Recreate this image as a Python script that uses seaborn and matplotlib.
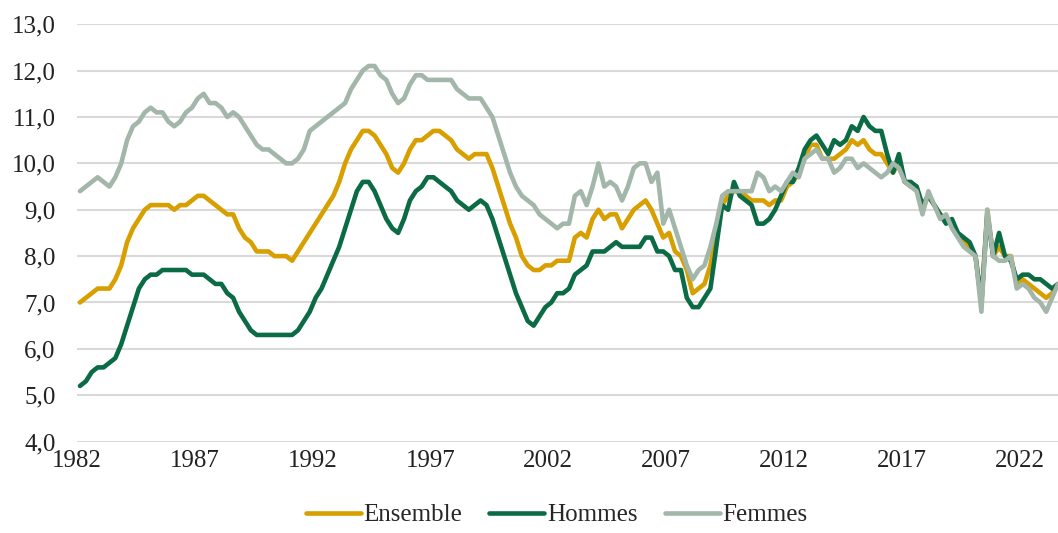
import numpy as np
import pandas as pd
import matplotlib
matplotlib.use("Agg")
import matplotlib.pyplot as plt
import seaborn as sns

# taux de chomage trimestriel, 1982 T1 -> 2023 T3
start_year = 1982
ensemble = [
    7.0, 7.1, 7.2, 7.3, 7.3, 7.3, 7.5, 7.8, 8.3, 8.6, 8.8, 9.0,
    9.1, 9.1, 9.1, 9.1, 9.0, 9.1, 9.1, 9.2, 9.3, 9.3, 9.2, 9.1,
    9.0, 8.9, 8.9, 8.6, 8.4, 8.3, 8.1, 8.1, 8.1, 8.0, 8.0, 8.0,
    7.9, 8.1, 8.3, 8.5, 8.7, 8.9, 9.1, 9.3, 9.6, 10.0, 10.3, 10.5,
    10.7, 10.7, 10.6, 10.4, 10.2, 9.9, 9.8, 10.0, 10.3, 10.5, 10.5, 10.6,
    10.7, 10.7, 10.6, 10.5, 10.3, 10.2, 10.1, 10.2, 10.2, 10.2, 9.9, 9.5,
    9.1, 8.7, 8.4, 8.0, 7.8, 7.7, 7.7, 7.8, 7.8, 7.9, 7.9, 7.9,
    8.4, 8.5, 8.4, 8.8, 9.0, 8.8, 8.9, 8.9, 8.6, 8.8, 9.0, 9.1,
    9.2, 9.0, 8.7, 8.4, 8.5, 8.1, 8.0, 7.7, 7.2, 7.3, 7.4, 7.8,
    8.5, 9.1, 9.3, 9.4, 9.4, 9.3, 9.2, 9.2, 9.2, 9.1, 9.2, 9.2,
    9.5, 9.6, 9.8, 10.1, 10.4, 10.4, 10.1, 10.1, 10.1, 10.2, 10.3, 10.5,
    10.4, 10.5, 10.3, 10.2, 10.2, 10.0, 9.8, 10.0, 9.6, 9.5, 9.5, 9.0,
    9.3, 9.1, 8.9, 8.8, 8.7, 8.5, 8.3, 8.2, 8.0, 7.0, 9.0, 8.0,
    8.2, 8.0, 8.0, 7.4, 7.5, 7.4, 7.3, 7.2, 7.1, 7.2, 7.4,
]
hommes = [
    5.2, 5.3, 5.5, 5.6, 5.6, 5.7, 5.8, 6.1, 6.5, 6.9, 7.3, 7.5,
    7.6, 7.6, 7.7, 7.7, 7.7, 7.7, 7.7, 7.6, 7.6, 7.6, 7.5, 7.4,
    7.4, 7.2, 7.1, 6.8, 6.6, 6.4, 6.3, 6.3, 6.3, 6.3, 6.3, 6.3,
    6.3, 6.4, 6.6, 6.8, 7.1, 7.3, 7.6, 7.9, 8.2, 8.6, 9.0, 9.4,
    9.6, 9.6, 9.4, 9.1, 8.8, 8.6, 8.5, 8.8, 9.2, 9.4, 9.5, 9.7,
    9.7, 9.6, 9.5, 9.4, 9.2, 9.1, 9.0, 9.1, 9.2, 9.1, 8.8, 8.4,
    8.0, 7.6, 7.2, 6.9, 6.6, 6.5, 6.7, 6.9, 7.0, 7.2, 7.2, 7.3,
    7.6, 7.7, 7.8, 8.1, 8.1, 8.1, 8.2, 8.3, 8.2, 8.2, 8.2, 8.2,
    8.4, 8.4, 8.1, 8.1, 8.0, 7.7, 7.7, 7.1, 6.9, 6.9, 7.1, 7.3,
    8.2, 9.1, 9.0, 9.6, 9.3, 9.2, 9.1, 8.7, 8.7, 8.8, 9.0, 9.3,
    9.6, 9.6, 9.9, 10.3, 10.5, 10.6, 10.4, 10.2, 10.5, 10.4, 10.5, 10.8,
    10.7, 11.0, 10.8, 10.7, 10.7, 10.2, 9.8, 10.2, 9.6, 9.6, 9.5, 9.1,
    9.3, 9.1, 8.9, 8.7, 8.8, 8.5, 8.4, 8.3, 8.0, 7.0, 8.9, 8.0,
    8.5, 8.0, 7.9, 7.5, 7.6, 7.6, 7.5, 7.5, 7.4, 7.3, 7.4,
]
femmes = [
    9.4, 9.5, 9.6, 9.7, 9.6, 9.5, 9.7, 10.0, 10.5, 10.8, 10.9, 11.1,
    11.2, 11.1, 11.1, 10.9, 10.8, 10.9, 11.1, 11.2, 11.4, 11.5, 11.3, 11.3,
    11.2, 11.0, 11.1, 11.0, 10.8, 10.6, 10.4, 10.3, 10.3, 10.2, 10.1, 10.0,
    10.0, 10.1, 10.3, 10.7, 10.8, 10.9, 11.0, 11.1, 11.2, 11.3, 11.6, 11.8,
    12.0, 12.1, 12.1, 11.9, 11.8, 11.5, 11.3, 11.4, 11.7, 11.9, 11.9, 11.8,
    11.8, 11.8, 11.8, 11.8, 11.6, 11.5, 11.4, 11.4, 11.4, 11.2, 11.0, 10.6,
    10.2, 9.8, 9.5, 9.3, 9.2, 9.1, 8.9, 8.8, 8.7, 8.6, 8.7, 8.7,
    9.3, 9.4, 9.1, 9.5, 10.0, 9.5, 9.6, 9.5, 9.2, 9.5, 9.9, 10.0,
    10.0, 9.6, 9.8, 8.7, 9.0, 8.6, 8.2, 7.8, 7.5, 7.7, 7.8, 8.2,
    8.7, 9.3, 9.4, 9.4, 9.4, 9.4, 9.4, 9.8, 9.7, 9.4, 9.5, 9.4,
    9.6, 9.8, 9.7, 10.1, 10.2, 10.3, 10.1, 10.1, 9.8, 9.9, 10.1, 10.1,
    9.9, 10.0, 9.9, 9.8, 9.7, 9.8, 10.0, 9.9, 9.6, 9.5, 9.4, 8.9,
    9.4, 9.1, 8.8, 8.9, 8.6, 8.4, 8.2, 8.1, 8.0, 6.8, 9.0, 8.0,
    7.9, 7.9, 8.0, 7.3, 7.4, 7.3, 7.1, 7.0, 6.8, 7.1, 7.4,
]
series_names = ["Ensemble", "Hommes", "Femmes"]
colors = ["#D89F00", "#0B6B45", "#A3B6AA"]
year_ticks = list(range(1982, 2023, 5))
y_ticks = list(range(4, 14))

# points au milieu de chaque trimestre
n = len(ensemble)
t = start_year + (np.arange(n) + 0.5) / 4

frames = []
for name, vals in zip(series_names, [ensemble, hommes, femmes]):
    frames.append(pd.DataFrame({"t": t, "taux": vals, "serie": name}))
df = pd.concat(frames, ignore_index=True)

sns.set_style("white")
plt.rcParams["font.family"] = ["Liberation Serif", "DejaVu Serif"]

fig = plt.figure(figsize=(10.58, 5.33), dpi=100)
ax = fig.add_axes([0.0728, 0.1715, 0.9272, 0.783])

sns.lineplot(data=df, x="t", y="taux", hue="serie", hue_order=series_names,
             palette=colors, linewidth=3.3, estimator=None, sort=False,
             ax=ax, legend=True)

ax.set_ylim(4, 13)
ax.set_xlim(start_year, t[-1])
ax.set_yticks(y_ticks)
ax.set_yticklabels([f"{v:.1f}".replace(".", ",") for v in y_ticks])
ax.set_xticks(year_ticks)
ax.set_xticklabels([str(y) for y in year_ticks])
ax.set_xlabel("")
ax.set_ylabel("")

ax.yaxis.grid(True, color="#D9D9D9", linewidth=1.5)
ax.set_axisbelow(True)
for s in ax.spines.values():
    s.set_visible(False)
ax.tick_params(axis="y", length=0, labelsize=18, pad=15.5, colors="#222222")
ax.tick_params(axis="x", length=7, width=1.2, color="#D9D9D9",
               labelsize=18, pad=-1, labelcolor="#222222")

handles, labels = ax.get_legend_handles_labels()
ax.legend(handles, labels, loc="lower center", bbox_to_anchor=(0.526, -0.03),
          bbox_transform=fig.transFigure, ncol=3, frameon=False,
          fontsize=18, handlelength=2.2, handletextpad=0.1,
          columnspacing=1.1)

fig.savefig("out.png", dpi=100)
